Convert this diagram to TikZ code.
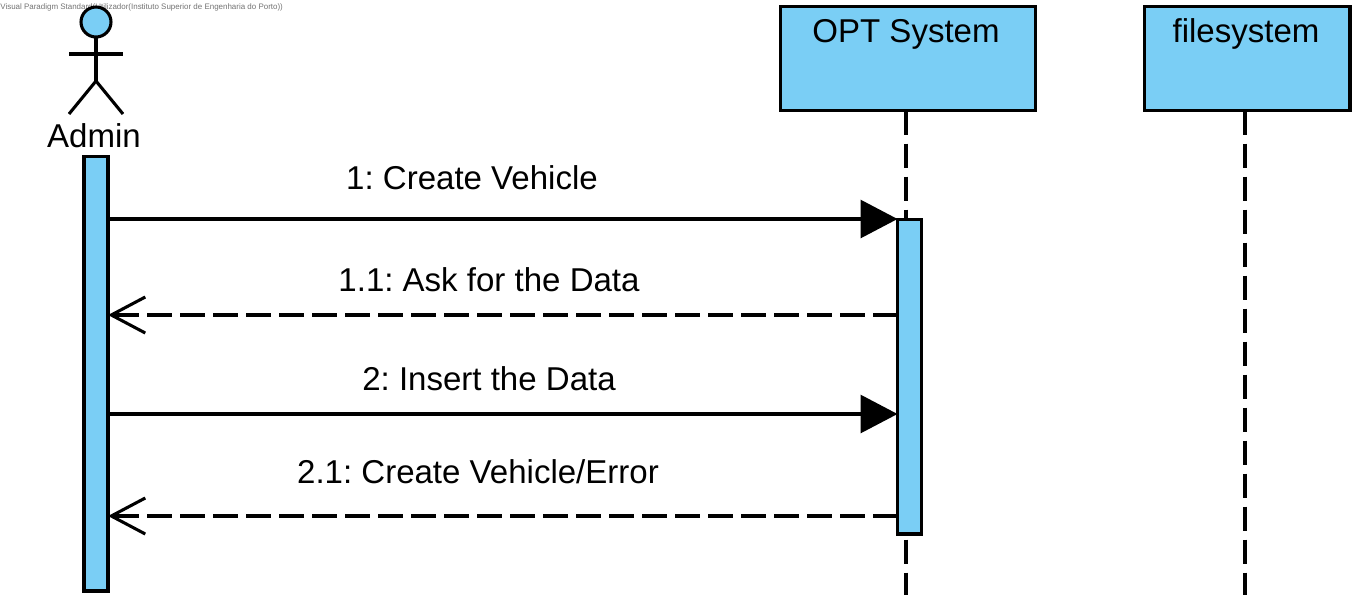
\documentclass[tikz,border=0pt]{standalone}
\usepackage{fontspec}
\setmainfont{Liberation Sans}
\usetikzlibrary{arrows.meta}
\definecolor{vpblue}{HTML}{7ACEF5}
\tikzset{
  lifebox/.style = {draw, fill = vpblue, line width = 1.75pt, minimum height = 2.09cm, inner sep = 0pt, outer sep = 0pt},
  activation/.style = {draw, fill = vpblue, line width = 1.75pt, minimum width = 0.48cm, inner sep = 0pt, outer sep = 0pt},
  txt/.style = {anchor = base, font = \fontsize{18.8}{22}\selectfont\frenchspacing, inner sep = 0pt},
  lifeline/.style = {line width = 1.75pt, dash pattern = on 0.49cm off 0.17cm},
  call/.style = {line width = 1.75pt, -{Triangle[length = 0.74cm, width = 0.76cm]}},
  reply/.style = {line width = 1.75pt, dash pattern = on 0.49cm off 0.17cm, -{Straight Barb[length = 0.68cm, width = 0.72cm, line width = 1.75pt]}}
}

\begin{document}
\begin{tikzpicture}[x = 0.02cm, y = -0.02cm]
\useasboundingbox (0,0) rectangle (1365,606);
\node (mark) [anchor = west, inner sep = 0pt, text = black!55, font = \fontsize{4.53}{6}\selectfont\frenchspacing] at (0,7) {Visual Paradigm Standard(Utilizador(Instituto Superior de Engenharia do Porto))};
% actor
\node (head) [draw, circle, fill = vpblue, line width = 1.75pt, minimum size = 0.6cm, inner sep = 0pt, outer sep = 0pt] at (96,22) {};
\coordinate (hip) at (96,81);
\coordinate (handL) at (69,54);
\coordinate (handR) at (123,54);
\coordinate (footL) at (69,114);
\coordinate (footR) at (123,114);
\draw [line width = 1.75pt] (head.south) -- (hip);
\draw [line width = 1.75pt] (handL) -- (handR);
\draw [line width = 1.75pt] (footL) -- (hip) -- (footR);
\node (admin) [txt] at (94,147) {Admin};
% lifelines
\coordinate (optEnd) at (906,595);
\coordinate (fileEnd) at (1245,595);
\node (optBox) [lifebox, minimum width = 5.09cm] at (908,58.5) {};
\node (fileBox) [lifebox, minimum width = 4.12cm] at (1247,58.5) {};
\draw [lifeline] (optBox.south -| optEnd) -- (optEnd);
\draw [lifeline] (fileBox.south -| fileEnd) -- (fileEnd);
\node (optLabel) [txt] at (906,42) {OPT System};
\node (fileLabel) [txt] at (1246,42) {filesystem};
% activations
\node (adminBar) [activation, minimum height = 8.7cm] at (96,373.5) {};
\node (optBar) [activation, minimum height = 6.3cm] at (909.5,376.5) {};
% messages
\draw [call] (adminBar.east |- 0,219) -- (optBar.west |- 0,219);
\node (msgA) [txt] at (472,189) {1: Create Vehicle};
\draw [reply] (optBar.west |- 0,315) -- (adminBar.east |- 0,315);
\node (msgB) [txt] at (489,291) {1.1: Ask for the Data};
\draw [call] (adminBar.east |- 0,414) -- (optBar.west |- 0,414);
\node (msgC) [txt] at (489,390) {2: Insert the Data};
\draw [reply] (optBar.west |- 0,516) -- (adminBar.east |- 0,516);
\node (msgD) [txt] at (478,483) {2.1: Create Vehicle/Error};
\end{tikzpicture}
\end{document}
